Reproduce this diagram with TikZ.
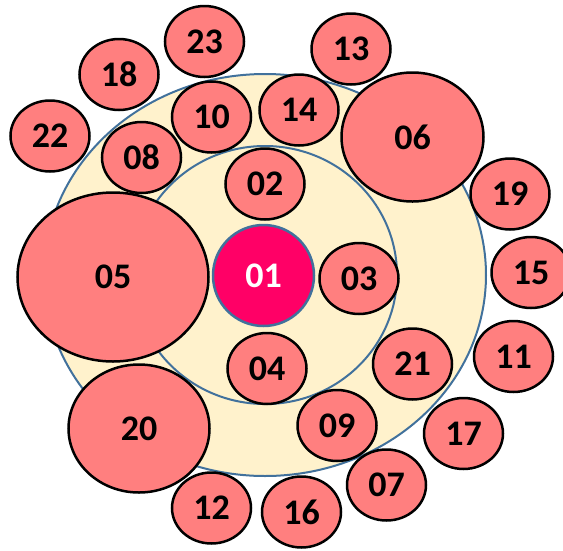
\documentclass[tikz,border=0pt]{standalone}
\usepackage{fontspec}
\setmainfont{Carlito}
\usetikzlibrary{shapes.geometric}
\definecolor{bubfill}{HTML}{FF7F7F}
\definecolor{ringfill}{HTML}{FFF2CC}
\definecolor{ringline}{HTML}{41719C}
\definecolor{corefill}{HTML}{FF0066}
\begin{document}
\begin{tikzpicture}[x=1pt,y=-1pt,
  ring/.style={ellipse, draw=ringline, line width=2pt, fill=ringfill, inner sep=0pt},
  bub/.style={ellipse, draw=black, line width=2.5pt, fill=bubfill, inner sep=0pt,
    minimum width=79pt, minimum height=71pt,
    font=\fontsize{36}{36}\selectfont\bfseries},
  sz/.style 2 args={minimum width=#1pt, minimum height=#2pt},
  core/.style={circle, draw=ringline, line width=2.5pt, fill=corefill, inner sep=0pt,
    minimum size=101pt, text=white, font=\fontsize{36}{36}\selectfont\bfseries}]
\useasboundingbox (0,0) rectangle (563,550);
% rings
\node[ring, sz={442}{402}] (outer) at (265,275) {};
\node[ring, sz={264}{258}] (inner) at (265,275) {};
% core
\node[core] (n01) at (263.5,275.5) {01};
% inner ring
\node[bub] (n02) at (265,184) {02};
\node[bub] (n03) at (359,278.5) {03};
\node[bub] (n04) at (267,368.5) {04};
% big bubbles
\node[bub, sz={191}{169}] (n05) at (113,277) {05};
\node[bub, sz={142}{129}] (n06) at (412.5,137) {06};
\node[bub, sz={141}{128}] (n20) at (139,428.5) {20};
% outer ring bubbles
\node[bub] (n08) at (141.5,157.5) {08};
\node[bub] (n10) at (211.5,117) {10};
\node[bub] (n14) at (299,110) {14};
\node[bub] (n21) at (412.5,364) {21};
\node[bub] (n09) at (337,425.5) {09};
% outside bubbles
\node[bub] (n23) at (204.5,41.5) {23};
\node[bub] (n18) at (119,74.5) {18};
\node[bub] (n22) at (50,136) {22};
\node[bub] (n13) at (351,49) {13};
\node[bub] (n19) at (510,194) {19};
\node[bub] (n15) at (531,272.5) {15};
\node[bub] (n11) at (513.5,356.5) {11};
\node[bub] (n17) at (463.5,433.5) {17};
\node[bub] (n07) at (386.5,485) {07};
\node[bub] (n16) at (301.5,512) {16};
\node[bub] (n12) at (211.5,508) {12};
\end{tikzpicture}
\end{document}
